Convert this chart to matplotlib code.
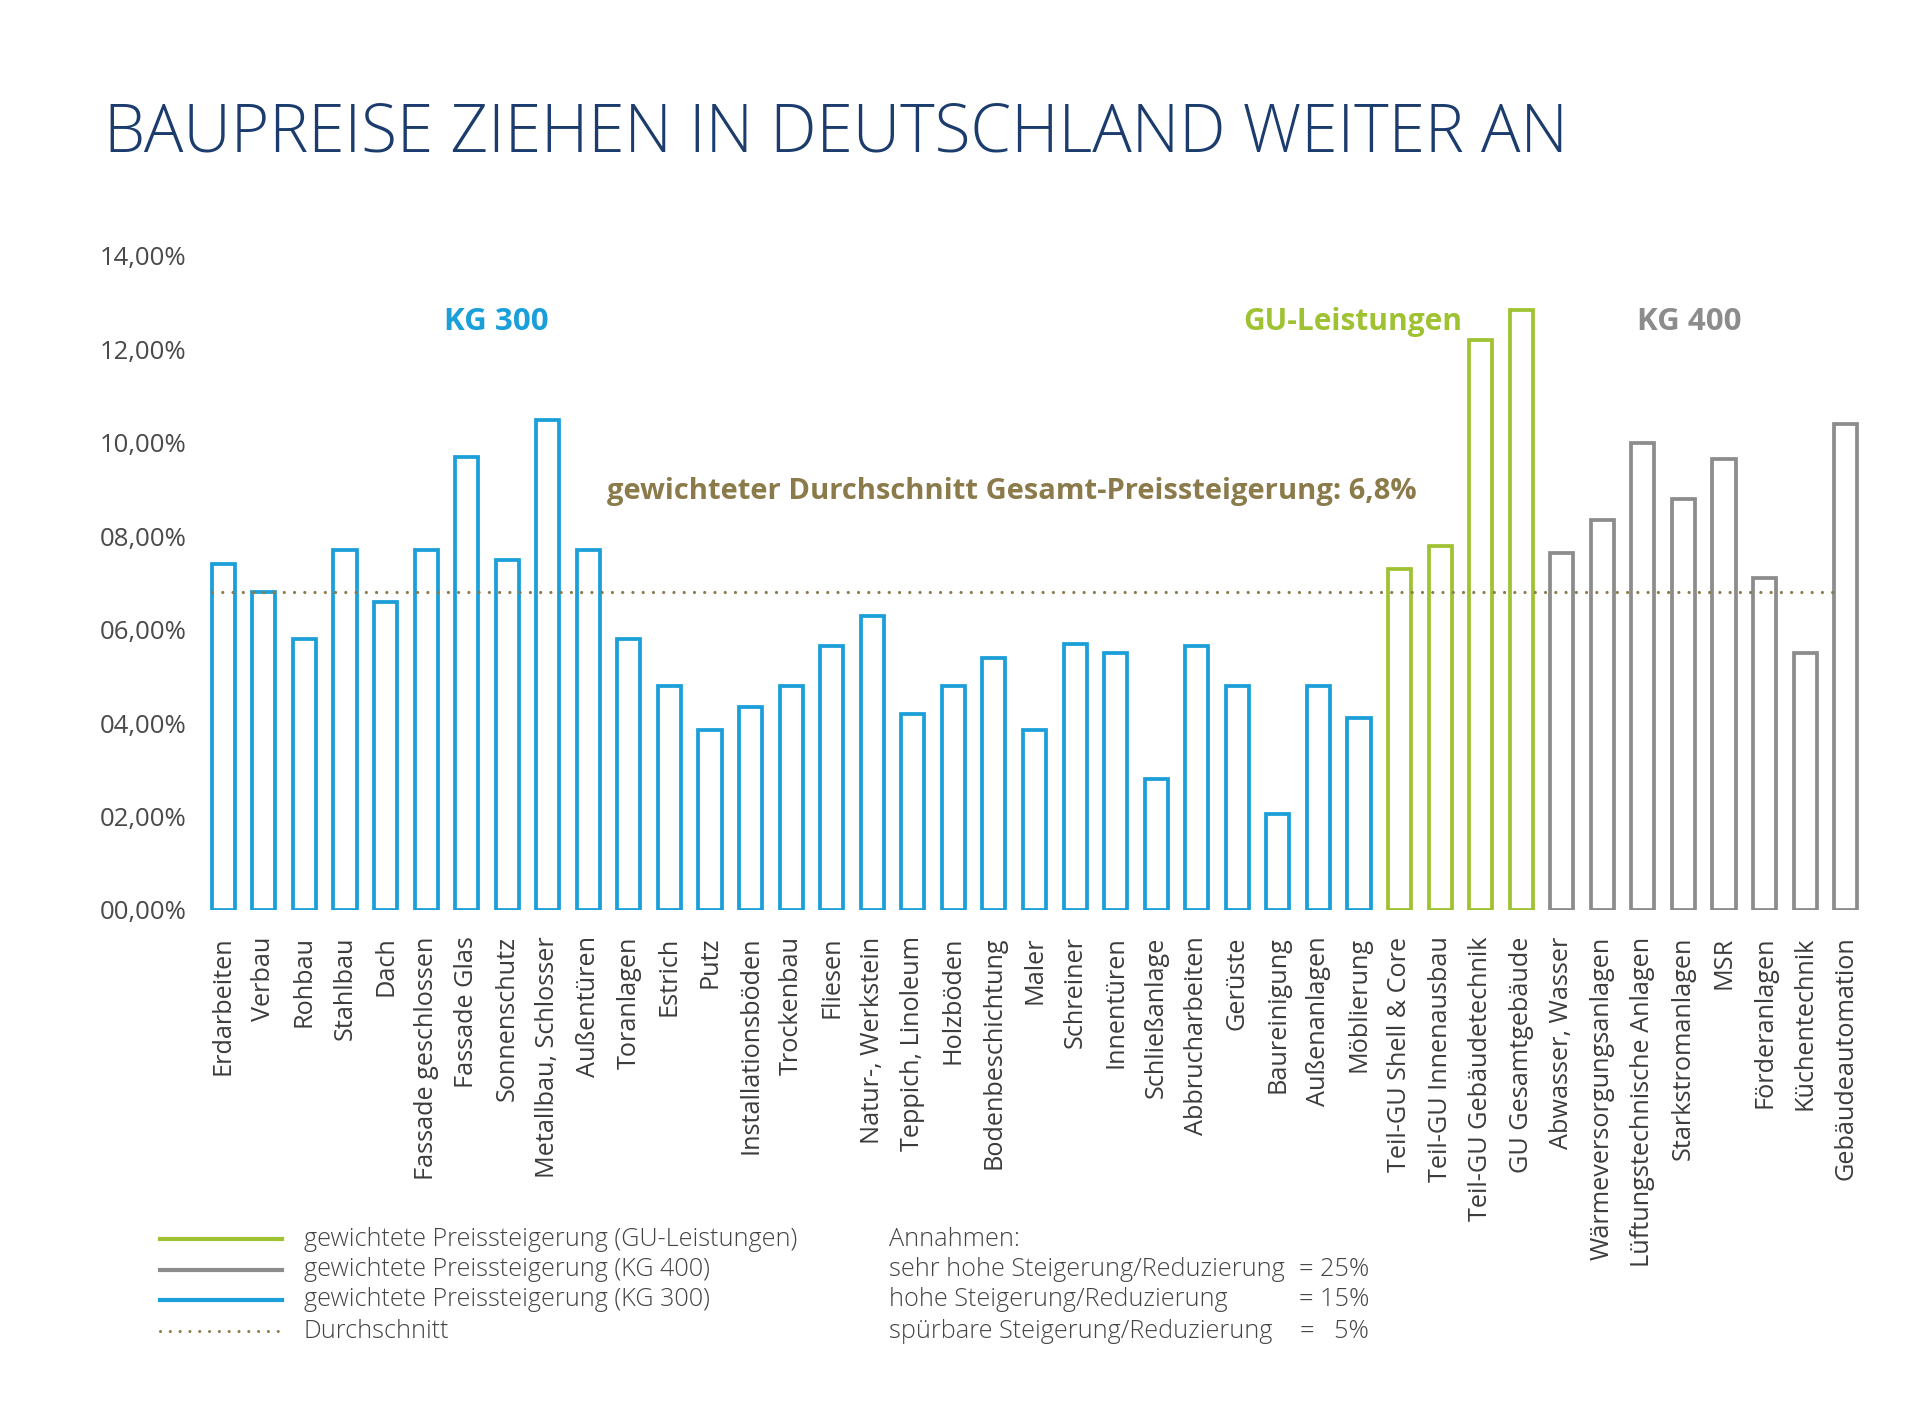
import matplotlib
matplotlib.use("Agg")
import matplotlib.pyplot as plt
from matplotlib.lines import Line2D

# --- data -------------------------------------------------------------
kg300_labels = ["Erdarbeiten", "Verbau", "Rohbau", "Stahlbau", "Dach",
                "Fassade geschlossen", "Fassade Glas", "Sonnenschutz",
                "Metallbau, Schlosser", "Außentüren", "Toranlagen", "Estrich",
                "Putz", "Installationsböden", "Trockenbau", "Fliesen",
                "Natur-, Werkstein", "Teppich, Linoleum", "Holzböden",
                "Bodenbeschichtung", "Maler", "Schreiner", "Innentüren",
                "Schließanlage", "Abbrucharbeiten", "Gerüste", "Baureinigung",
                "Außenanlagen", "Möblierung"]
kg300_values = [7.4, 6.8, 5.8, 7.7, 6.6, 7.7, 9.7, 7.5, 10.5, 7.7, 5.8, 4.8,
                3.85, 4.35, 4.8, 5.65, 6.3, 4.2, 4.8, 5.4, 3.85, 5.7, 5.5,
                2.8, 5.65, 4.8, 2.05, 4.8, 4.1]

gu_labels = ["Teil-GU Shell & Core", "Teil-GU Innenausbau",
             "Teil-GU Gebäudetechnik", "GU Gesamtgebäude"]
gu_values = [7.3, 7.8, 12.2, 12.85]

kg400_labels = ["Abwasser, Wasser", "Wärmeversorgungsanlagen",
                "Lüftungstechnische Anlagen", "Starkstromanlagen", "MSR",
                "Förderanlagen", "Küchentechnik", "Gebäudeautomation"]
kg400_values = [7.65, 8.35, 10.0, 8.8, 9.65, 7.1, 5.5, 10.4]

average = 6.8
y_ticks = [0, 2, 4, 6, 8, 10, 12, 14]

legend_labels = ["gewichtete Preissteigerung (GU-Leistungen)",
                 "gewichtete Preissteigerung (KG 400)",
                 "gewichtete Preissteigerung (KG 300)",
                 "Durchschnitt"]
assumption_labels = ["sehr hohe Steigerung/Reduzierung",
                     "hohe Steigerung/Reduzierung",
                     "spürbare Steigerung/Reduzierung"]
assumption_values = ["= 25%", "= 15%", "=   5%"]

# --- style ------------------------------------------------------------
BLUE = "#1a9fd9"
GREEN = "#9fc232"
GRAY = "#8c8c8c"
OLIVE = "#8b7a4a"
NAVY = "#1b3c6d"
TEXT = "#444444"

plt.rcParams["font.family"] = ["Open Sans", "DejaVu Sans"]

W, H = 1920, 1428
fig = plt.figure(figsize=(W / 100, H / 100), dpi=100)
fig.patch.set_facecolor("white")


def fx(px):
    return px / W


def fy(py):
    return 1 - py / H


ax = fig.add_axes([fx(203), fy(910), fx(1866) - fx(203), fy(256) - fy(910)])

labels = kg300_labels + gu_labels + kg400_labels
values = kg300_values + gu_values + kg400_values
colors = [BLUE] * len(kg300_values) + [GREEN] * len(gu_values) + [GRAY] * len(kg400_values)
x = list(range(len(values)))

bar_w = 0.57
ax.bar(x, values, width=bar_w, fill=False, edgecolor=colors, linewidth=2.7)

ax.plot([x[0] - bar_w / 2, x[-1] - bar_w / 2], [average, average],
        color=OLIVE, linewidth=2.3, linestyle=(0, (0.01, 3.2)),
        dash_capstyle="round")

ax.set_xlim(-0.5, len(values) - 0.5)
ax.set_ylim(0, 14)
ax.set_yticks(y_ticks)
ax.set_yticklabels([f"{v:05.2f}%".replace(".", ",") for v in y_ticks],
                   fontsize=18.5, color="#4a4a4a")
ax.set_xticks(x)
ax.set_xticklabels(labels, rotation=90, fontsize=18.2, color="#3c3c3c",
                   va="top", ha="center")
ax.tick_params(axis="both", length=0)
ax.tick_params(axis="y", pad=12)
ax.tick_params(axis="x", pad=19)
for s in ax.spines.values():
    s.set_visible(False)

# title and group labels
fig.text(fx(104), fy(134), "BAUPREISE ZIEHEN IN DEUTSCHLAND WEITER AN",
         fontsize=47.3, color=NAVY, fontweight="light", va="center", ha="left")
fig.text(fx(496), fy(322), "KG 300", fontsize=22.5, color=BLUE,
         fontweight="bold", ha="center", va="center")
fig.text(fx(1353), fy(322), "GU-Leistungen", fontsize=21.5, color=GREEN,
         fontweight="bold", ha="center", va="center")
fig.text(fx(1689), fy(322), "KG 400", fontsize=22.5, color=GRAY,
         fontweight="bold", ha="center", va="center")
fig.text(fx(1012), fy(492),
         "gewichteter Durchschnitt Gesamt-Preissteigerung: 6,8%",
         fontsize=21, color=OLIVE, fontweight="bold", ha="center", va="center")

# legend (drawn by hand)
row_y = [1239, 1270, 1300, 1331]
leg_styles = [(GREEN, "-"), (GRAY, "-"), (BLUE, "-"), (OLIVE, (0, (0.01, 3.2)))]
for yy, lab, (col, ls) in zip(row_y, legend_labels, leg_styles):
    fig.add_artist(Line2D([fx(160), fx(282)], [fy(yy), fy(yy)], color=col,
                          linewidth=3 if ls == "-" else 2.2, linestyle=ls,
                          dash_capstyle="round", transform=fig.transFigure))
    fig.text(fx(304), fy(yy), lab, fontsize=18.2, color=TEXT,
             fontweight="light", va="center", ha="left")

fig.text(fx(889), fy(row_y[0]), "Annahmen:", fontsize=18.2, color=TEXT,
         fontweight="light", va="center", ha="left")
for yy, lab, val in zip(row_y[1:], assumption_labels, assumption_values):
    fig.text(fx(889), fy(yy), lab, fontsize=18.2, color=TEXT,
             fontweight="light", va="center", ha="left")
    fig.text(fx(1369), fy(yy), val, fontsize=18.2, color=TEXT,
             fontweight="light", va="center", ha="right")

fig.savefig("out.png", dpi=100, facecolor="white")
